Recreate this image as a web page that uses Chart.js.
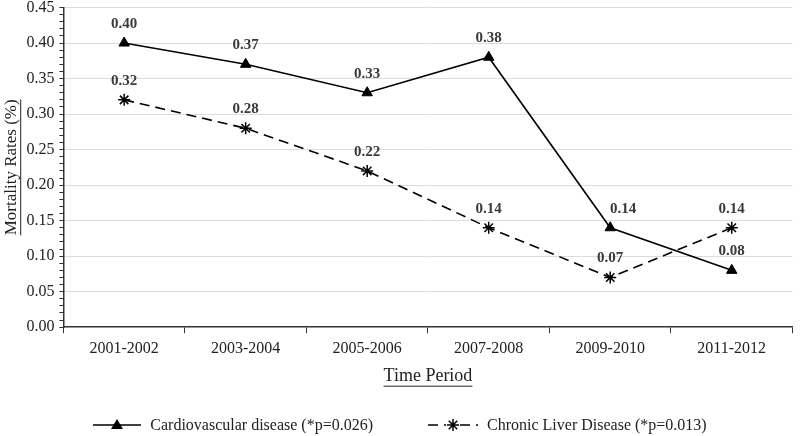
<!DOCTYPE html>
<html>
<head>
<meta charset="utf-8">
<script src="https://cdn.jsdelivr.net/npm/chart.js@4/dist/chart.umd.min.js"></script>
<style>
  html, body { margin: 0; padding: 0; background: #fff; }
  #wrap { position: relative; width: 800px; height: 436px; }
  #legend {
    position: absolute; left: 0; top: 414px; width: 800px; height: 22px;
    display: flex; justify-content: center; align-items: center;
    font-family: "Liberation Serif", serif; font-size: 16px; color: #222;
  }
  .item { display: flex; align-items: center; }
  .item canvas { margin-right: 9px; }
  .item + .item { margin-left: 55px; }
</style>
</head>
<body>
<div id="wrap">
  <canvas id="graph" width="800" height="436"></canvas>
  <div id="legend">
    <div class="item"><canvas id="sw1" width="48" height="16"></canvas>Cardiovascular disease (*p=0.026)</div>
    <div class="item"><canvas id="sw2" width="50" height="16"></canvas>Chronic Liver Disease (*p=0.013)</div>
  </div>
</div>
<script>
var periodes = ["2001-2002", "2003-2004", "2005-2006", "2007-2008", "2009-2010", "2011-2012"];
var cardio = [0.40, 0.37, 0.33, 0.38, 0.14, 0.08];
var foie = [0.32, 0.28, 0.22, 0.14, 0.07, 0.14];
var nomsSeries = ["Cardiovascular disease (*p=0.026)", "Chronic Liver Disease (*p=0.013)"];

var police = "Liberation Serif";

// etiquettes des valeurs au-dessus des points
var etiquettes = {
  id: "etiquettes",
  afterDatasetsDraw: function(chart, args, opts) {
    var ctx = chart.ctx;
    var decalages = opts.decalages || {};
    ctx.save();
    ctx.font = "bold 15px '" + police + "'";
    ctx.fillStyle = "#3a3a3a";
    ctx.textAlign = "center";
    ctx.textBaseline = "middle";
    chart.data.datasets.forEach(function(ds, i) {
      var meta = chart.getDatasetMeta(i);
      meta.data.forEach(function(pt, j) {
        var dx = decalages[i + "-" + j] || 0;
        ctx.fillText(ds.data[j].toFixed(2), pt.x + dx, pt.y - 19);
      });
    });
    ctx.restore();
  }
};

// soulignement des titres d'axes
var soulignement = {
  id: "soulignement",
  afterDraw: function(chart) {
    var ctx = chart.ctx;
    ctx.save();
    ctx.strokeStyle = "#222";
    ctx.lineWidth = 1;
    var x = chart.scales.x;
    var t = x.options.title;
    ctx.font = t.font.size + "px '" + police + "'";
    var w = ctx.measureText(t.text).width;
    var cx = (x.left + x.right) / 2;
    var cy = x.bottom - (t.font.size * 1.2 / 2 + t.padding.bottom) + t.font.size / 2 + 1;
    ctx.beginPath();
    ctx.moveTo(cx - w / 2, cy);
    ctx.lineTo(cx + w / 2, cy);
    ctx.stroke();

    var y = chart.scales.y;
    var ty = y.options.title;
    ctx.font = ty.font.size + "px '" + police + "'";
    w = ctx.measureText(ty.text).width;
    var yx = y.left + ty.font.size * 1.2 / 2 + ty.padding.top + ty.font.size / 2 + 1;
    var yc = (y.top + y.bottom) / 2;
    ctx.beginPath();
    ctx.moveTo(yx, yc - w / 2);
    ctx.lineTo(yx, yc + w / 2);
    ctx.stroke();
    ctx.restore();
  }
};

var ctx = document.getElementById("graph").getContext("2d");
var chart = new Chart(ctx, {
  type: "line",
  data: {
    labels: periodes,
    datasets: [
      {
        label: nomsSeries[0],
        data: cardio,
        borderColor: "#000",
        backgroundColor: "#000",
        borderWidth: 1.6,
        pointStyle: "triangle",
        pointRadius: 6,
        pointBorderWidth: 1,
        tension: 0
      },
      {
        label: nomsSeries[1],
        data: foie,
        borderColor: "#000",
        backgroundColor: "#000",
        borderWidth: 1.6,
        borderDash: [10, 6],
        pointStyle: "star",
        pointRadius: 6,
        pointBorderWidth: 1.5,
        tension: 0
      }
    ]
  },
  options: {
    responsive: false,
    animation: false,
    layout: { padding: { left: 1, right: 0, top: 0, bottom: 49 } },
    plugins: {
      legend: { display: false },
      tooltip: { enabled: false },
      etiquettes: { decalages: { "0-4": 13 } }
    },
    scales: {
      x: {
        offset: true,
        grid: {
          offset: true,
          drawOnChartArea: false,
          drawTicks: true,
          tickLength: 6,
          tickColor: "#333"
        },
        border: { color: "#333", width: 1.5 },
        ticks: {
          color: "#222",
          padding: 6,
          font: { family: police, size: 16 }
        },
        title: {
          display: true,
          text: "Time Period",
          color: "#222",
          font: { family: police, size: 18 },
          padding: { top: 1, bottom: 0 }
        }
      },
      y: {
        min: 0,
        max: 0.45,
        grid: {
          color: function(c) {
            if (!c.tick) return "transparent";
            var v = Math.round(c.tick.value * 100);
            return (v % 5 === 0 && v > 0) ? "#dcdcdc" : "transparent";
          },
          tickColor: "#333",
          tickLength: 4
        },
        border: { color: "#333", width: 1.5 },
        ticks: {
          stepSize: 0.01,
          autoSkip: false,
          color: "#222",
          padding: 5,
          font: { family: police, size: 16, lineHeight: 0.3 },
          callback: function(v) {
            var n = Math.round(v * 100);
            return n % 5 === 0 ? (n / 100).toFixed(2) : "";
          }
        },
        title: {
          display: true,
          text: "Mortality Rates (%)",
          color: "#222",
          font: { family: police, size: 17 },
          padding: { top: 0, bottom: 0 }
        }
      }
    }
  },
  plugins: [etiquettes, soulignement]
});

// petits symboles de la légende
function dessinerEchantillon(id, pointille, marqueur) {
  var c = document.getElementById(id);
  var g = c.getContext("2d");
  var w = c.width, h = c.height, m = h / 2;
  g.strokeStyle = "#000";
  g.fillStyle = "#000";
  g.lineWidth = 1.6;
  if (pointille) g.setLineDash([10, 6]);
  g.beginPath();
  g.moveTo(0, m);
  g.lineTo(w, m);
  g.stroke();
  g.setLineDash([]);
  if (marqueur === "triangle") {
    g.beginPath();
    g.moveTo(w / 2, m - 6);
    g.lineTo(w / 2 + 6, m + 4);
    g.lineTo(w / 2 - 6, m + 4);
    g.closePath();
    g.fill();
  } else {
    g.fillStyle = "#fff";
    g.fillRect(w / 2 - 7, m - 7, 14, 14);
    g.lineWidth = 1.5;
    g.beginPath();
    for (var a = 0; a < 4; a++) {
      var ang = a * Math.PI / 4;
      g.moveTo(w / 2 - 6 * Math.cos(ang), m - 6 * Math.sin(ang));
      g.lineTo(w / 2 + 6 * Math.cos(ang), m + 6 * Math.sin(ang));
    }
    g.stroke();
  }
}
dessinerEchantillon("sw1", false, "triangle");
dessinerEchantillon("sw2", true, "star");
</script>
</body>
</html>
